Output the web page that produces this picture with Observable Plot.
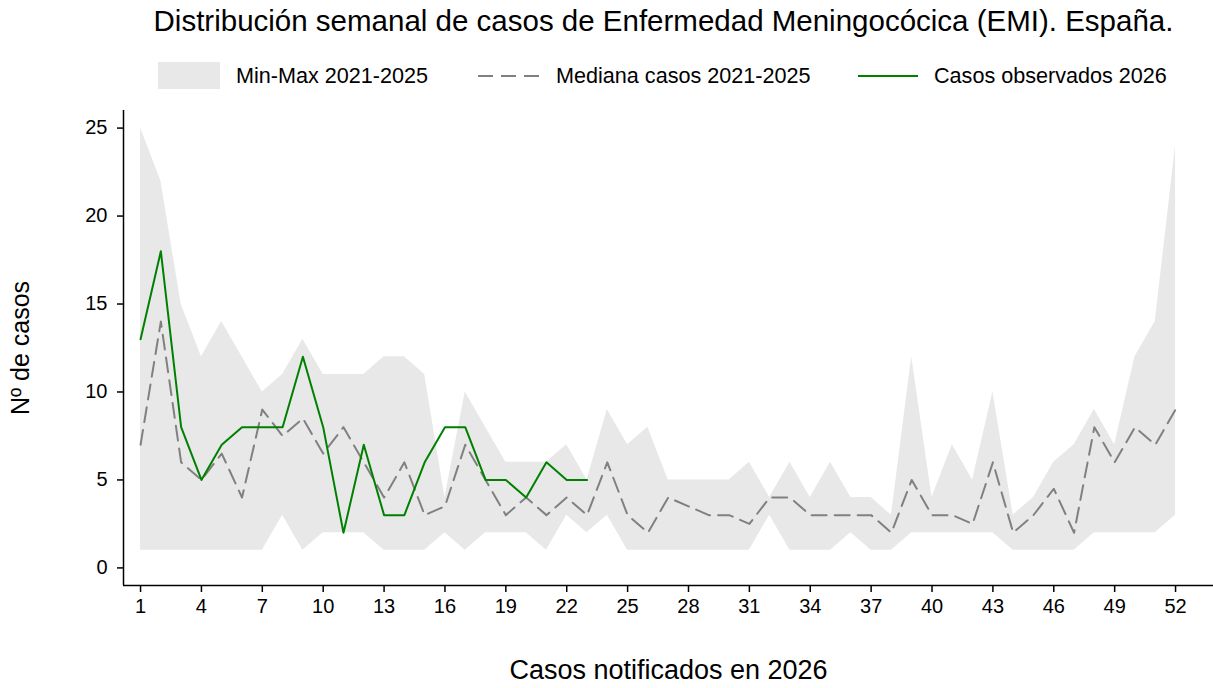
<!DOCTYPE html>
<html>
<head>
<meta charset="utf-8">
<script src="https://cdn.jsdelivr.net/npm/d3@7"></script>
<script src="https://cdn.jsdelivr.net/npm/@observablehq/plot@0.6"></script>
<style>
  html, body { margin: 0; padding: 0; background: #fff; }
  body { font-family: "Liberation Sans", Arial, Helvetica, sans-serif; }
  #wrap { position: relative; width: 1213px; height: 688px; overflow: hidden; }
  #header { position: relative; width: 1213px; height: 100px; }
  #title { position: absolute; left: 0; width: 1327px; top: 4px; text-align: center; font-size: 29.5px; color: #000; line-height: 34px; white-space: nowrap; }
  .lg { position: absolute; font-size: 21.6px; line-height: 26px; top: 63px; color: #000; white-space: nowrap; }
  .sw { position: absolute; }
</style>
</head>
<body>
<div id="wrap">
  <div id="header">
    <div id="title"></div>
    <div class="sw" style="left:158px;top:62px;width:62px;height:27px;background:#e8e8e8;"></div>
    <div class="lg" id="lg1" style="left:236px;"></div>
    <svg class="sw" style="left:478px;top:66px;" width="64" height="20"><line x1="0" x2="62" y1="10" y2="10" stroke="#808080" stroke-width="2" stroke-dasharray="15,8"/></svg>
    <div class="lg" id="lg2" style="left:556px;"></div>
    <svg class="sw" style="left:858px;top:66px;" width="62" height="20"><line x1="0" x2="60" y1="10" y2="10" stroke="#008000" stroke-width="2"/></svg>
    <div class="lg" id="lg3" style="left:934px;"></div>
  </div>
  <div id="chart"></div>
</div>
<script>
const titulo = "Distribución semanal de casos de Enfermedad Meningocócica (EMI). España.";
const leyenda = ["Min-Max 2021-2025", "Mediana casos 2021-2025", "Casos observados 2026"];
const etiquetaX = "Casos notificados en 2026";
const etiquetaY = "Nº de casos";

const semanas = [1,2,3,4,5,6,7,8,9,10,11,12,13,14,15,16,17,18,19,20,21,22,23,24,25,26,27,28,29,30,31,32,33,34,35,36,37,38,39,40,41,42,43,44,45,46,47,48,49,50,51,52];
const maximo = [25,22,15,12,14,12,10,11,13,11,11,11,12,12,11,4,10,8,6,6,6,7,5,9,7,8,5,5,5,5,6,4,6,4,6,4,4,3,12,4,7,5,10,3,4,6,7,9,7,12,14,24];
const minimo = [1,1,1,1,1,1,1,3,1,2,2,2,1,1,1,2,1,2,2,2,1,3,2,3,1,1,1,1,1,1,1,3,1,1,1,2,1,1,2,2,2,2,2,1,1,1,1,2,2,2,2,3];
const mediana = [7,14,6,5,6.5,4,9,7.5,8.5,6.5,8,6,4,6,3,3.5,7,5,3,4,3,4,3,6,3,2,4,3.5,3,3,2.5,4,4,3,3,3,3,2,5,3,3,2.5,6,2,3,4.5,2,8,6,8,7,9];
const observados = [13,18,8,5,7,8,8,8,12,8,2,7,3,3,6,8,8,5,5,4,6,5,5];

const ticksX = [1,4,7,10,13,16,19,22,25,28,31,34,37,40,43,46,49,52];
const ticksY = [0,5,10,15,20,25];

document.getElementById("title").textContent = titulo;
document.getElementById("lg1").textContent = leyenda[0];
document.getElementById("lg2").textContent = leyenda[1];
document.getElementById("lg3").textContent = leyenda[2];

const banda = semanas.map((s, i) => ({semana: s, min: minimo[i], max: maximo[i], mediana: mediana[i]}));
const obs = observados.map((v, i) => ({semana: semanas[i], casos: v}));

const chart = Plot.plot({
  width: 1213,
  height: 588,
  marginTop: 10,
  marginBottom: 103,
  marginLeft: 123,
  marginRight: 0,
  style: {fontFamily: '"Liberation Sans", Arial, sans-serif', fontSize: "20px", color: "#000", background: "#fff"},
  x: {domain: [0.16, 53.87]},
  y: {domain: [-1, 26]},
  marks: [
    Plot.areaY(banda, {x: "semana", y1: "min", y2: "max", fill: "#e8e8e8"}),
    Plot.lineY(banda, {x: "semana", y: "mediana", stroke: "#808080", strokeWidth: 2, strokeDasharray: "15,8"}),
    Plot.lineY(obs, {x: "semana", y: "casos", stroke: "#008000", strokeWidth: 2}),
    Plot.axisX({ticks: ticksX, tickSize: 7, tickPadding: 6, tickFormat: d => String(d), label: etiquetaX, labelAnchor: "center", labelArrow: "none", labelOffset: 93, fontSize: 20, stroke: "#000", strokeWidth: 1.5}),
    Plot.axisY({ticks: ticksY, tickSize: 6, tickPadding: 10, tickFormat: d => String(d), label: etiquetaY, labelAnchor: "center", labelArrow: "none", labelOffset: 112, fontSize: 20, stroke: "#000", strokeWidth: 1.5}),
    Plot.ruleY([-1], {stroke: "#000", strokeWidth: 1.5}),
    Plot.ruleX([0.16], {stroke: "#000", strokeWidth: 1.5})
  ]
});
document.getElementById("chart").appendChild(chart);
chart.querySelectorAll("g[aria-label='x-axis label'] text").forEach(t => t.setAttribute("font-size", "27"));
chart.querySelectorAll("g[aria-label='y-axis label'] text").forEach(t => t.setAttribute("font-size", "25"));
</script>
</body>
</html>
